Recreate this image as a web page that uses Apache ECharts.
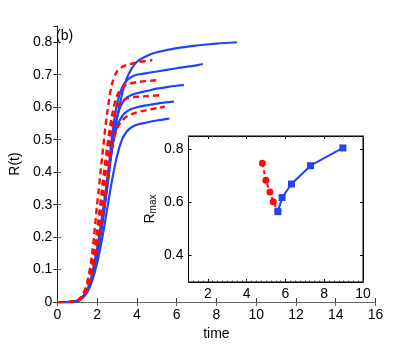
<!DOCTYPE html>
<html><head><meta charset="utf-8">
<script src="https://cdn.jsdelivr.net/npm/echarts@6/dist/echarts.min.js"></script>
<style>html,body{margin:0;padding:0;background:#fff}#c{width:415px;height:346px}</style>
</head><body><div id="c"></div>
<script>
// Main plot: blue solid curves (time, R)
const tB1 = [0,0.5,0.75,1,1.25,1.5,1.75,2,2.25,2.5,2.75,3,3.25,3.5,3.75,4,4.5,5,5.63];
const rB1 = [0,0,0.001,0.003,0.012,0.03,0.065,0.12,0.195,0.285,0.375,0.45,0.5,0.526,0.539,0.546,0.553,0.559,0.565];
const tB2 = [0,0.5,0.75,1,1.25,1.5,1.75,2,2.25,2.5,2.75,3,3.25,3.5,3.75,4,4.5,5,5.86];
const rB2 = [0,0,0.001,0.003,0.013,0.033,0.075,0.14,0.235,0.35,0.47,0.54,0.572,0.587,0.595,0.6,0.606,0.611,0.617];
const tB3 = [0,0.5,0.75,1,1.25,1.5,1.75,2,2.25,2.5,2.75,3,3.25,3.5,3.75,4,4.5,5,5.5,6,6.36];
const rB3 = [0,0,0.001,0.003,0.014,0.035,0.08,0.15,0.245,0.35,0.475,0.57,0.612,0.63,0.638,0.643,0.65,0.657,0.662,0.666,0.668];
const tB4 = [0,0.5,0.75,1,1.25,1.5,1.75,2,2.25,2.5,2.75,3,3.25,3.5,3.75,4,4.5,5,6,7,7.32];
const rB4 = [0,0,0.001,0.003,0.014,0.035,0.085,0.16,0.245,0.365,0.51,0.61,0.66,0.683,0.694,0.7,0.705,0.71,0.72,0.729,0.733];
const tB5 = [0,0.5,0.75,1,1.25,1.5,1.75,2,2.25,2.5,2.75,3,3.25,3.5,3.75,4,4.5,5,6,7,8,9.03];
const rB5 = [0,0,0.001,0.003,0.014,0.035,0.085,0.165,0.265,0.375,0.475,0.565,0.64,0.69,0.72,0.74,0.758,0.769,0.782,0.79,0.796,0.8];
// Main plot: red dashed curves (time, R)
const tR1 = [0,0.5,0.75,1,1.25,1.5,1.75,2,2.25,2.5,2.75,3,3.25,3.5,4,4.78];
const rR1 = [0,0,0.001,0.005,0.02,0.06,0.15,0.3,0.445,0.58,0.672,0.71,0.723,0.73,0.738,0.745];
const tR2 = [0,0.5,0.75,1,1.25,1.5,1.75,2,2.25,2.5,2.75,3,3.25,3.5,4,4.98];
const rR2 = [0,0,0.001,0.004,0.016,0.05,0.12,0.22,0.35,0.475,0.575,0.635,0.66,0.67,0.677,0.683];
const tR3 = [0,0.5,0.75,1,1.25,1.5,1.75,2,2.25,2.5,2.75,3,3.25,3.5,4,4.5,5.21];
const rR3 = [0,0,0.001,0.004,0.015,0.045,0.1,0.19,0.31,0.43,0.545,0.6,0.619,0.627,0.632,0.634,0.637];
const tR4 = [0,0.5,0.75,1,1.25,1.5,1.75,2,2.25,2.5,2.75,3,3.25,3.5,4,4.5,5,5.41];
const rR4 = [0,0,0.001,0.004,0.014,0.04,0.09,0.17,0.255,0.37,0.48,0.535,0.558,0.572,0.584,0.591,0.597,0.602];
// Inset: (end time, Rmax)
const insetRedT = [4.81,4.99,5.2,5.37,5.61];
const insetRedR = [0.747,0.683,0.639,0.602,0.567];
const insetBlueT = [5.61,5.83,6.31,7.29,8.96];
const insetBlueR = [0.565,0.618,0.669,0.738,0.805];
const insetXTicks = [2,4,6,8,10];
const insetYTicks = [0.4,0.6,0.8];

const BLUE = '#2244f5', RED = '#ff0a0a';
const FONT = "'Liberation Sans Narrow','Liberation Sans',Arial,sans-serif";
const zip = (a,b) => a.map((v,i)=>[v,b[i]]);

const chart = echarts.init(document.getElementById('c'), null, {renderer:'canvas'});
const lab = {color:'#000', fontFamily:FONT, fontSize:14};
function mainSeries(t, r, color, dashed){
  return {type:'line', xAxisIndex:0, yAxisIndex:0, data:zip(t,r), showSymbol:false, symbol:'none',
    smooth:0.3, z: dashed?3:2,
    lineStyle:{color, width: dashed?2.4:2.2, type: dashed?[6,4]:'solid'}};
}
function minorAxis(pos){
  return {type:'value', gridIndex:1, min:1, max:10, interval:0.25, position:pos, z:6,
    axisLine:{show:false}, axisTick:{inside:true, length:1.5, lineStyle:{color:'#444', width:1}},
    axisLabel:{show:false}, splitLine:{show:false}};
}
const option = {
  animation:false,
  backgroundColor:'#fff',
  grid:[
    {left:53.5, right:39.5, top:26, bottom:40, show:false},
    {left:188.5, right:52, top:136, bottom:64, show:true, backgroundColor:'#fff', borderColor:'#000', borderWidth:1, z:5}
  ],
  xAxis:[
    {type:'value', gridIndex:0, min:0, max:16, interval:2, position:'bottom',
     name:'time', nameLocation:'middle', nameGap:24, nameTextStyle:{...lab},
     axisLine:{show:true, lineStyle:{color:'#333', width:1}}, axisTick:{inside:true, length:4, lineStyle:{color:'#333'}},
     axisLabel:{...lab, margin:6}, splitLine:{show:false}},
    {type:'value', gridIndex:0, min:0, max:16, interval:2, position:'top',
     axisLine:{show:true, lineStyle:{color:'#666', width:1}}, axisTick:{inside:true, length:4, lineStyle:{color:'#666'}},
     axisLabel:{show:false}, splitLine:{show:false}},
    {type:'value', gridIndex:1, min:1, max:10, position:'bottom', z:6,
     axisLine:{show:true, lineStyle:{color:'#000'}},
     axisTick:{inside:true, length:3, customValues:insetXTicks, lineStyle:{color:'#000'}},
     axisLabel:{...lab, margin:5, customValues:insetXTicks}, splitLine:{show:false}},
    {type:'value', gridIndex:1, min:1, max:10, position:'top', z:6,
     axisLine:{show:true, lineStyle:{color:'#000'}},
     axisTick:{inside:true, length:3, customValues:insetXTicks, lineStyle:{color:'#000'}},
     axisLabel:{show:false}, splitLine:{show:false}},
    minorAxis('top'),
    minorAxis('bottom')
  ],
  yAxis:[
    {type:'value', gridIndex:0, min:0, max:0.85, interval:0.1, position:'left',
     name:'R(t)', nameLocation:'middle', nameGap:29, nameRotate:90, nameTextStyle:{...lab},
     axisLine:{show:true, lineStyle:{color:'#666', width:1}}, axisTick:{inside:true, length:4, lineStyle:{color:'#666'}},
     axisLabel:{...lab, margin:5, showMaxLabel:false}, splitLine:{show:false}},
    {type:'value', gridIndex:0, min:0, max:0.85, interval:0.1, position:'right',
     axisLine:{show:true, lineStyle:{color:'#222', width:1}}, axisTick:{inside:true, length:4, lineStyle:{color:'#222'}},
     axisLabel:{show:false}, splitLine:{show:false}},
    {type:'value', gridIndex:1, min:0.3, max:0.85, position:'left', z:6,
     axisLine:{show:true, lineStyle:{color:'#000'}},
     axisTick:{inside:true, length:3, customValues:insetYTicks, lineStyle:{color:'#000'}},
     axisLabel:{...lab, margin:5, customValues:insetYTicks, formatter:v=>v.toFixed(1)},
     name:'{a|R}{b|max}', nameLocation:'middle', nameGap:30, nameRotate:90,
     nameTextStyle:{rich:{a:{fontFamily:FONT,fontSize:14,color:'#000'}, b:{fontFamily:FONT,fontSize:10,color:'#000',verticalAlign:'bottom', padding:[6,0,0,0]}}},
     splitLine:{show:false}},
    {type:'value', gridIndex:1, min:0.3, max:0.85, position:'right', z:6,
     axisLine:{show:true, lineStyle:{color:'#000'}},
     axisTick:{inside:true, length:3, customValues:insetYTicks, lineStyle:{color:'#000'}},
     axisLabel:{show:false}, splitLine:{show:false}}
  ],
  graphic:[{type:'text', left:56, top:29, z:10, style:{text:'(b)', fill:'#000', font:"14px "+FONT}}],
  series:[
    mainSeries(tR1,rR1,RED,true),
    mainSeries(tR2,rR2,RED,true),
    mainSeries(tR3,rR3,RED,true),
    mainSeries(tR4,rR4,RED,true),
    mainSeries(tB1,rB1,BLUE,false),
    mainSeries(tB2,rB2,BLUE,false),
    mainSeries(tB3,rB3,BLUE,false),
    mainSeries(tB4,rB4,BLUE,false),
    mainSeries(tB5,rB5,BLUE,false),
    {type:'line', xAxisIndex:2, yAxisIndex:2, data:zip(insetRedT,insetRedR), z:10,
     symbol:'circle', symbolSize:7, itemStyle:{color:RED}, lineStyle:{color:RED, width:2, type:[4,3]}},
    {type:'line', xAxisIndex:2, yAxisIndex:2, data:zip(insetBlueT,insetBlueR), z:11,
     symbol:'rect', symbolSize:7, itemStyle:{color:BLUE}, lineStyle:{color:BLUE, width:2}}
  ]
};
chart.setOption(option);
</script></body></html>
